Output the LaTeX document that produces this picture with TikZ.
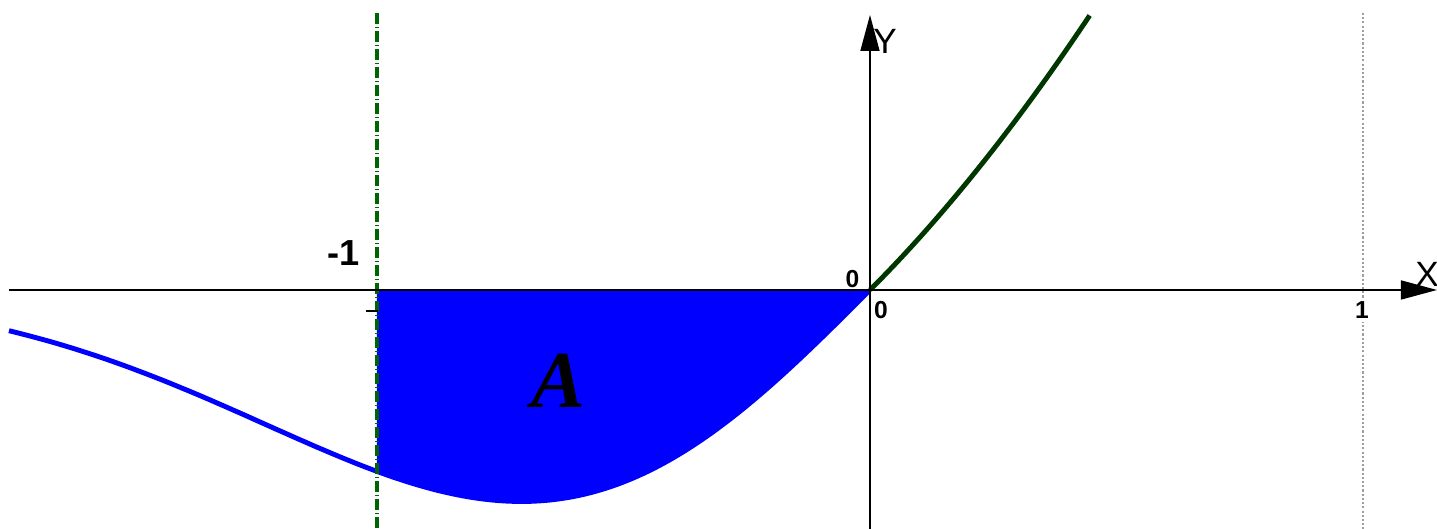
\documentclass[tikz,border=0pt]{standalone}
\usepackage{fontspec}
\setmainfont{Liberation Sans}
\newfontfamily\areafont{Liberation Serif}
\usetikzlibrary{arrows.meta}
\definecolor{curvegreen}{RGB}{0,55,0}
\definecolor{dashgreen}{RGB}{0,100,0}
\tikzset{
  axisline/.style={draw=black,line width=0.45pt,-{Triangle[length=0.36cm,width=0.19cm]}},
  smalllabel/.style={font=\fontsize{7}{8}\selectfont\bfseries,inner sep=0pt},
  biglabel/.style={font=\fontsize{10}{12}\selectfont,inner sep=0pt}
}
\begin{document}
\begin{tikzpicture}[x=4.93cm,y=4.93cm]
    \useasboundingbox (-1.7647,-0.4848) rectangle (1.1501,0.5882);
    % area A
    \fill[blue] (-1,0) -- plot[domain=-1:0,samples=80,smooth] (\x,{\x*exp(-\x*\x)}) -- cycle;
    \draw[blue,line width=1.4pt] plot[domain=-1.7465:0,samples=120,smooth] (\x,{\x*exp(-\x*\x)});
    \draw[curvegreen,line width=1.4pt] plot[domain=0:0.4462,samples=60,smooth] (\x,{\x+0.56*\x*\x});
    % vertical lines
    \draw[dashgreen,line width=1.1pt,dash pattern=on 0.11cm off 0.03cm on 0.01cm off 0.03cm]
      (-1,0.562) -- (-1,-0.4848);
    \draw[gray!75,line width=0.6pt,dash pattern=on 0.6pt off 0.6pt] (1,0.562) -- (1,-0.4848);
    % axes
    \coordinate (xstart) at (-1.7465,0);
    \coordinate (xend) at (1.1501,0);
    \coordinate (ystart) at (0,-0.4848);
    \coordinate (yend) at (0,0.5578);
    \draw[axisline] (xstart) -- (xend);
    \draw[axisline] (ystart) -- (yend);
    \draw[black,line width=0.45pt] (-1.0223,-0.0426) -- (-0.9980,-0.0426);
    % labels
    \node[biglabel,font=\fontsize{10.3}{12}\selectfont\bfseries] (mone) at (-1.067,0.075) {-1};
    \node[smalllabel] (zeroup) at (-0.0355,0.0213) {0};
    \node[smalllabel] (zerodown) at (0.0223,-0.0406) {0};
    \node[smalllabel,fill=white,inner sep=1pt] (one) at (0.998,-0.0406) {1};
    \node[biglabel] (xlab) at (1.130,0.0325) {X};
    \node[biglabel] (ylab) at (0.0304,0.505) {Y};
    \node[font=\fontsize{23}{25}\selectfont\areafont\bfseries\itshape,inner sep=0pt] (area) at (-0.632,-0.185) {A};
\end{tikzpicture}
\end{document}
